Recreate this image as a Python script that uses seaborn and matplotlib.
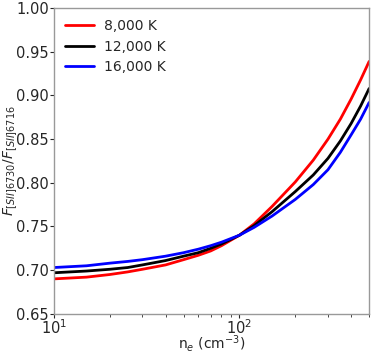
import numpy as np
import pandas as pd
import matplotlib
matplotlib.use("Agg")
import matplotlib.pyplot as plt
import seaborn as sns

# electron density (cm^-3) and line ratio for three temperatures
density = [10, 15, 20, 25, 30, 40, 50, 60, 70, 80, 100, 120, 150,
           200, 250, 300, 350, 400, 450, 500]
ratio_8000 = [0.690, 0.692, 0.695, 0.698, 0.701, 0.706, 0.712, 0.717, 0.722, 0.728,
              0.740, 0.753, 0.773, 0.801, 0.826, 0.850, 0.873, 0.896, 0.918, 0.939]
ratio_12000 = [0.697, 0.699, 0.701, 0.703, 0.706, 0.711, 0.716, 0.720, 0.725, 0.730,
               0.740, 0.751, 0.767, 0.790, 0.809, 0.828, 0.848, 0.868, 0.888, 0.908]
ratio_16000 = [0.703, 0.705, 0.708, 0.710, 0.712, 0.716, 0.720, 0.724, 0.728, 0.732,
               0.740, 0.749, 0.762, 0.781, 0.798, 0.815, 0.835, 0.855, 0.873, 0.892]
labels = ["8,000 K", "12,000 K", "16,000 K"]
colors = ["red", "black", "blue"]

df = pd.concat([
    pd.DataFrame({"ne": density, "ratio": r, "T": lab})
    for r, lab in zip([ratio_8000, ratio_12000, ratio_16000], labels)
])

sns.set_style("white")
plt.rcParams["font.family"] = ["DejaVu Sans"]

fig = plt.figure(figsize=(3.74, 3.55), dpi=100)
ax = fig.add_axes([0.144, 0.116, 0.843, 0.861])
sns.lineplot(data=df, x="ne", y="ratio", hue="T", hue_order=labels,
             palette=colors, linewidth=2, ax=ax)

ax.set_xscale("log")
ax.set_xlim(10, 500)
ax.set_ylim(0.65, 1.0)
ax.set_yticks(np.arange(0.65, 1.001, 0.05))
ax.set_yticklabels([f"{v:.2f}" for v in np.arange(0.65, 1.001, 0.05)])
ax.set_xlabel(r"n$_e$ (cm$^{-3}$)", fontsize=10)
ax.set_ylabel(r"$F_{[SII]6730}/F_{[SII]6716}$", fontsize=10)
ax.xaxis.set_label_coords(0.5, -0.062)
ax.yaxis.set_label_coords(-0.108, 0.5)
ax.tick_params(axis="both", which="major", labelsize=10.5, length=3,
               width=0.8, direction="out", left=True, bottom=True, pad=0.5)
ax.tick_params(axis="x", which="minor", length=2, width=0.6, bottom=True)
for s in ax.spines.values():
    s.set_color("#999999")
    s.set_linewidth(1.0)

ax.legend(loc="upper left", frameon=False, fontsize=10, handlelength=2.1,
          handletextpad=0.7, labelspacing=0.45, borderaxespad=0.4)

fig.savefig("out.png", dpi=100)
